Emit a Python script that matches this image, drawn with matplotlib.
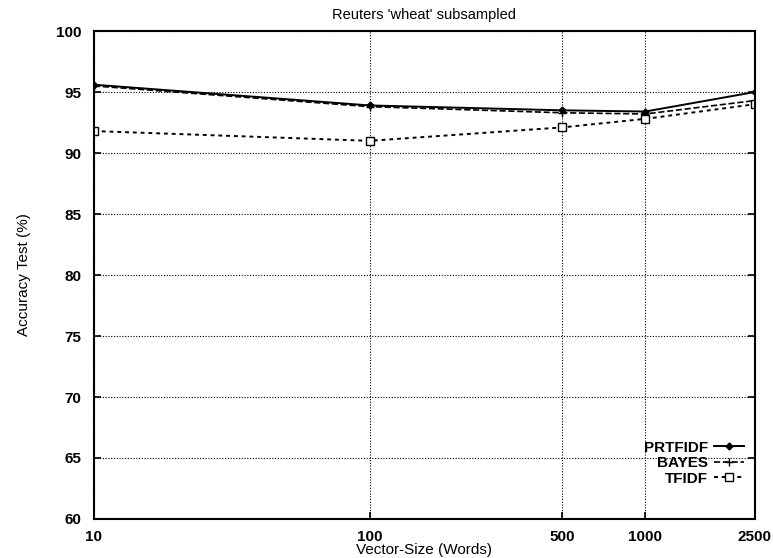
import numpy as np
import matplotlib
matplotlib.use('Agg')
import matplotlib.pyplot as plt

sizes = [10, 100, 500, 1000, 2500]
prtfidf = [95.6, 93.9, 93.5, 93.4, 95.0]
bayes = [95.5, 93.8, 93.3, 93.2, 94.3]
tfidf = [91.8, 91.0, 92.1, 92.8, 94.0]
xtick_labels = ['10', '100', '500', '1000', '2500']
yticks = [60, 65, 70, 75, 80, 85, 90, 95, 100]

plt.rcParams['font.family'] = ['Liberation Sans', 'DejaVu Sans']

fig = plt.figure(figsize=(7.73, 5.58), dpi=100)
ax = fig.add_axes([0.1216, 0.0699, 0.855, 0.8745])

ax.plot(sizes, prtfidf, '-', color='black', lw=1.4, marker='D', ms=3.5, label='PRTFIDF')
ax.plot(sizes, bayes, '--', color='black', lw=1.2, marker='+', ms=6, label='BAYES')
ax.plot(sizes, tfidf, ':', color='black', lw=1.4, marker='s', ms=6,
        mfc='white', mew=1.0, label='TFIDF', dashes=(2, 2))

ax.set_xscale('log')
ax.set_xlim(10, 2500)
ax.set_ylim(60, 100)
ax.set_xticks(sizes)
ax.set_xticklabels(xtick_labels)
ax.minorticks_off()
ax.set_yticks(yticks)
ax.tick_params(direction='in', length=5, width=1.2, labelsize=11, top=False, right=True)
ax.tick_params(axis='y', pad=9)
ax.tick_params(axis='x', pad=8)
for lab in ax.get_xticklabels() + ax.get_yticklabels():
    lab.set_fontweight('bold')
for s in ax.spines.values():
    s.set_linewidth(1.5)

ax.grid(True, linestyle=(0, (1, 1.5)), color='black', lw=0.8)

ax.set_title("Reuters 'wheat' subsampled", fontsize=10.5, pad=9)
ax.set_xlabel('Vector-Size (Words)', fontsize=11, labelpad=-1)
ax.set_ylabel('Accuracy Test (%)', fontsize=11, labelpad=18)

leg = ax.legend(loc='lower right', bbox_to_anchor=(1.005, 0.04), frameon=False,
                markerfirst=False, fontsize=11, handlelength=2.0,
                handletextpad=0.4, labelspacing=0.1)
for t in leg.get_texts():
    t.set_fontweight('bold')

fig.savefig('out.png', dpi=100)
